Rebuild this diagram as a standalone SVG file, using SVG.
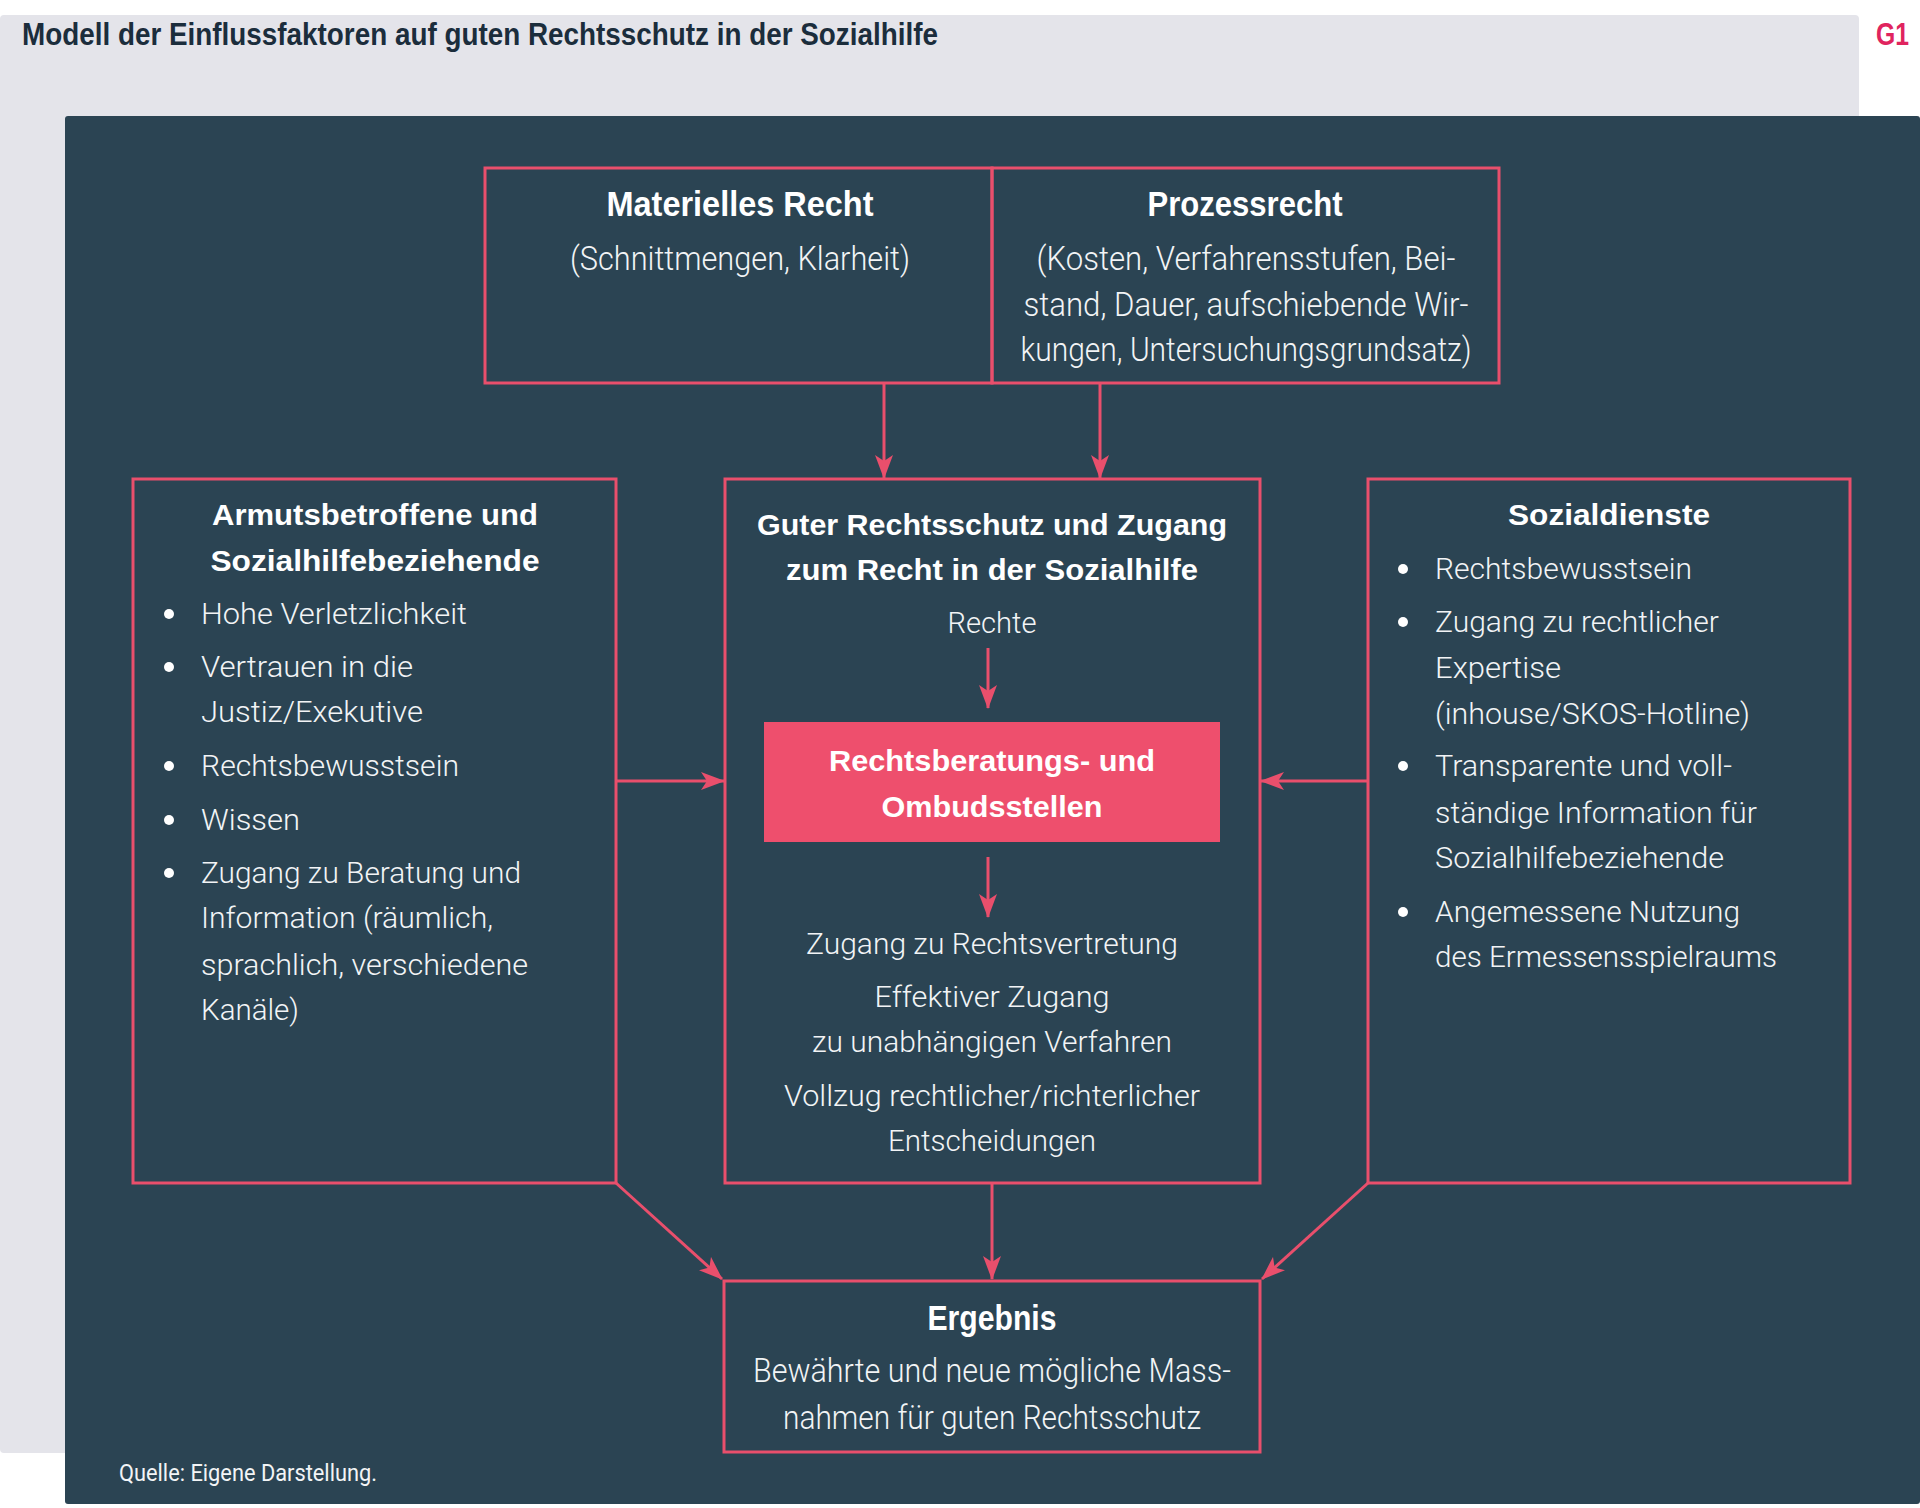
<svg xmlns="http://www.w3.org/2000/svg" width="1920" height="1508" viewBox="0 0 1920 1508">
<defs>
<style>
.box{fill:none;stroke:#e94f6c;stroke-width:3}
.conn{stroke:#e94f6c;stroke-width:3;fill:none;marker-end:url(#ah)}
.hd{font-family:"Liberation Sans",Arial,sans-serif;font-weight:700;fill:#ffffff;text-anchor:middle}
.hdc{font-family:"Liberation Sans",Arial,sans-serif;font-weight:700;fill:#ffffff;text-anchor:middle}
.bd{font-family:Roboto,"Liberation Sans",sans-serif;font-weight:300;fill:#f2f4f6}
.bdc{font-family:Roboto,"Liberation Sans",sans-serif;font-weight:300;fill:#f2f4f6;text-anchor:middle}
.bul{fill:#ffffff}
</style>
<marker id="ah" markerUnits="userSpaceOnUse" markerWidth="24" markerHeight="18" refX="23" refY="9" orient="auto">
<path d="M0,0 L24,9 L0,18 L6,9 z" fill="#e94f6c"/>
</marker>
</defs>
<rect x="0" y="0" width="1920" height="1508" fill="#ffffff"/>
<rect x="0" y="15" width="1859" height="1438" rx="4" fill="#e4e4ea"/>
<rect x="65" y="116" width="1855" height="1388" rx="3" fill="#2b4453"/>
<text x="22" y="45" font-family="'Liberation Sans',Arial,sans-serif" font-weight="700" font-size="31" fill="#1b2d3c" textLength="916" lengthAdjust="spacingAndGlyphs">Modell der Einflussfaktoren auf guten Rechtsschutz in der Sozialhilfe</text>
<text x="1876" y="45" font-family="'Liberation Sans',Arial,sans-serif" font-weight="700" font-size="31" fill="#e0245e" textLength="33" lengthAdjust="spacingAndGlyphs">G1</text>

<g id="connectors">
<line class="conn" x1="884" y1="384" x2="884" y2="478"/>
<line class="conn" x1="1100" y1="384" x2="1100" y2="478"/>
<line class="conn" x1="616" y1="781" x2="724" y2="781"/>
<line class="conn" x1="1368" y1="781" x2="1261" y2="781"/>
<line class="conn" x1="988" y1="648" x2="988" y2="708"/>
<line class="conn" x1="988" y1="857" x2="988" y2="917"/>
<line class="conn" x1="616" y1="1183" x2="722" y2="1279"/>
<line class="conn" x1="992" y1="1184" x2="992" y2="1279"/>
<line class="conn" x1="1368" y1="1183" x2="1262" y2="1279"/>
</g>

<g id="node-materielles">
<rect class="box" x="485" y="168" width="507" height="215"/>
<text class="hdc" x="740" y="216" font-size="35" textLength="267" lengthAdjust="spacingAndGlyphs">Materielles Recht</text>
<text class="bdc" x="740" y="270" font-size="34" textLength="340" lengthAdjust="spacingAndGlyphs">(Schnittmengen, Klarheit)</text>
</g>

<g id="node-prozess">
<rect class="box" x="992" y="168" width="507" height="215"/>
<text class="hdc" x="1245" y="216" font-size="35" textLength="195" lengthAdjust="spacingAndGlyphs">Prozessrecht</text>
<text class="bdc" x="1246" y="270" font-size="34" textLength="419" lengthAdjust="spacingAndGlyphs">(Kosten, Verfahrensstufen, Bei-</text>
<text class="bdc" x="1246" y="316" font-size="34" textLength="445" lengthAdjust="spacingAndGlyphs">stand, Dauer, aufschiebende Wir-</text>
<text class="bdc" x="1246" y="361" font-size="34" textLength="451" lengthAdjust="spacingAndGlyphs">kungen, Untersuchungsgrundsatz)</text>
</g>

<g id="node-armut">
<rect class="box" x="133" y="479" width="483" height="704"/>
<text class="hd" x="375" y="525" font-size="30" textLength="326" lengthAdjust="spacingAndGlyphs">Armutsbetroffene und</text>
<text class="hd" x="375" y="571" font-size="30" textLength="329" lengthAdjust="spacingAndGlyphs">Sozialhilfebeziehende</text>
<circle class="bul" cx="169" cy="614" r="5"/>
<circle class="bul" cx="169" cy="667" r="5"/>
<circle class="bul" cx="169" cy="766" r="5"/>
<circle class="bul" cx="169" cy="820" r="5"/>
<circle class="bul" cx="169" cy="873" r="5"/>
<text class="bd" x="201" y="624" font-size="30" textLength="266" lengthAdjust="spacingAndGlyphs">Hohe Verletzlichkeit</text>
<text class="bd" x="201" y="677" font-size="30" textLength="212" lengthAdjust="spacingAndGlyphs">Vertrauen in die</text>
<text class="bd" x="201" y="722" font-size="30" textLength="222" lengthAdjust="spacingAndGlyphs">Justiz/Exekutive</text>
<text class="bd" x="201" y="776" font-size="30" textLength="258" lengthAdjust="spacingAndGlyphs">Rechtsbewusstsein</text>
<text class="bd" x="201" y="830" font-size="30" textLength="99" lengthAdjust="spacingAndGlyphs">Wissen</text>
<text class="bd" x="201" y="883" font-size="30" textLength="320" lengthAdjust="spacingAndGlyphs">Zugang zu Beratung und</text>
<text class="bd" x="201" y="928" font-size="30" textLength="292" lengthAdjust="spacingAndGlyphs">Information (räumlich,</text>
<text class="bd" x="201" y="975" font-size="30" textLength="327" lengthAdjust="spacingAndGlyphs">sprachlich, verschiedene</text>
<text class="bd" x="201" y="1020" font-size="30" textLength="98" lengthAdjust="spacingAndGlyphs">Kanäle)</text>
</g>

<g id="node-zentrum">
<rect class="box" x="725" y="479" width="535" height="704"/>
<text class="hd" x="992" y="535" font-size="30" textLength="470" lengthAdjust="spacingAndGlyphs">Guter Rechtsschutz und Zugang</text>
<text class="hd" x="992" y="580" font-size="30" textLength="412" lengthAdjust="spacingAndGlyphs">zum Recht in der Sozialhilfe</text>
<text class="bdc" x="992" y="633" font-size="30" textLength="89" lengthAdjust="spacingAndGlyphs">Rechte</text>
<text class="bdc" x="992" y="954" font-size="30" textLength="372" lengthAdjust="spacingAndGlyphs">Zugang zu Rechtsvertretung</text>
<text class="bdc" x="992" y="1007" font-size="30" textLength="235" lengthAdjust="spacingAndGlyphs">Effektiver Zugang</text>
<text class="bdc" x="992" y="1052" font-size="30" textLength="360" lengthAdjust="spacingAndGlyphs">zu unabhängigen Verfahren</text>
<text class="bdc" x="992" y="1106" font-size="30" textLength="416" lengthAdjust="spacingAndGlyphs">Vollzug rechtlicher/richterlicher</text>
<text class="bdc" x="992" y="1151" font-size="30" textLength="208" lengthAdjust="spacingAndGlyphs">Entscheidungen</text>
</g>

<g id="node-beratung">
<rect x="764" y="722" width="456" height="120" fill="#ee4f6d"/>
<text class="hd" x="992" y="771" font-size="30" textLength="326" lengthAdjust="spacingAndGlyphs">Rechtsberatungs- und</text>
<text class="hd" x="992" y="817" font-size="30" textLength="221" lengthAdjust="spacingAndGlyphs">Ombudsstellen</text>
</g>

<g id="node-sozialdienste">
<rect class="box" x="1368" y="479" width="482" height="704"/>
<text class="hd" x="1609" y="525" font-size="30" textLength="202" lengthAdjust="spacingAndGlyphs">Sozialdienste</text>
<circle class="bul" cx="1403" cy="569" r="5"/>
<circle class="bul" cx="1403" cy="622" r="5"/>
<circle class="bul" cx="1403" cy="766" r="5"/>
<circle class="bul" cx="1403" cy="912" r="5"/>
<text class="bd" x="1435" y="579" font-size="30" textLength="257" lengthAdjust="spacingAndGlyphs">Rechtsbewusstsein</text>
<text class="bd" x="1435" y="632" font-size="30" textLength="284" lengthAdjust="spacingAndGlyphs">Zugang zu rechtlicher</text>
<text class="bd" x="1435" y="678" font-size="30" textLength="126" lengthAdjust="spacingAndGlyphs">Expertise</text>
<text class="bd" x="1435" y="724" font-size="30" textLength="315" lengthAdjust="spacingAndGlyphs">(inhouse/SKOS-Hotline)</text>
<text class="bd" x="1435" y="776" font-size="30" textLength="297" lengthAdjust="spacingAndGlyphs">Transparente und voll-</text>
<text class="bd" x="1435" y="823" font-size="30" textLength="322" lengthAdjust="spacingAndGlyphs">ständige Information für</text>
<text class="bd" x="1435" y="868" font-size="30" textLength="289" lengthAdjust="spacingAndGlyphs">Sozialhilfebeziehende</text>
<text class="bd" x="1435" y="922" font-size="30" textLength="305" lengthAdjust="spacingAndGlyphs">Angemessene Nutzung</text>
<text class="bd" x="1435" y="967" font-size="30" textLength="342" lengthAdjust="spacingAndGlyphs">des Ermessensspielraums</text>
</g>

<g id="node-ergebnis">
<rect class="box" x="724" y="1281" width="536" height="171"/>
<text class="hdc" x="992" y="1330" font-size="35" textLength="129" lengthAdjust="spacingAndGlyphs">Ergebnis</text>
<text class="bdc" x="992" y="1382" font-size="34" textLength="478" lengthAdjust="spacingAndGlyphs">Bewährte und neue mögliche Mass-</text>
<text class="bdc" x="992" y="1429" font-size="34" textLength="418" lengthAdjust="spacingAndGlyphs">nahmen für guten Rechtsschutz</text>
</g>

<text x="119" y="1481" font-family="Roboto,'Liberation Sans',sans-serif" font-weight="400" font-size="24" fill="#f2f4f6" textLength="258" lengthAdjust="spacingAndGlyphs">Quelle: Eigene Darstellung.</text>
</svg>
